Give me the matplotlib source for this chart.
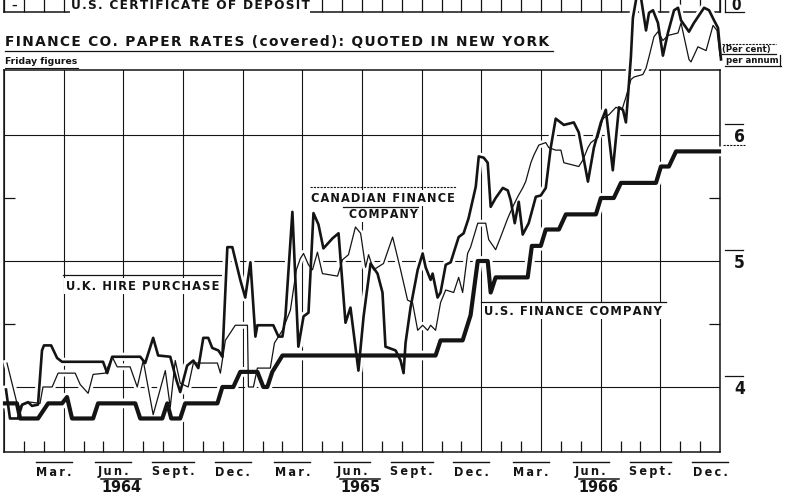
import matplotlib
matplotlib.use("Agg")
import matplotlib.pyplot as plt
import matplotlib.transforms as mtransforms
from matplotlib.lines import Line2D
from matplotlib.ticker import MultipleLocator, FixedLocator

# ─────────────────────────────
# DATA  (x = months since 1 Jan 1964, y = per cent per annum)
# ─────────────────────────────
us_x = [0.05, 0.65, 0.81, 1.71, 2.22, 2.92, 3.17, 3.42, 4.48, 4.73,
        6.60, 6.85, 7.96, 8.21, 8.41, 8.86, 9.11, 10.73, 10.98, 11.53,
        11.88, 12.74, 13.04, 13.24, 13.49, 14.00, 21.70, 21.95, 23.06, 23.46,
        23.82, 24.32, 24.47, 24.72, 26.33, 26.54, 26.99, 27.24, 27.90, 28.25,
        29.76, 30.01, 30.66, 31.02, 32.78, 33.03, 33.43, 33.79, 35.95]
us_y = [3.87, 3.87, 3.75, 3.75, 3.87, 3.87, 3.92, 3.75, 3.75, 3.87,
        3.87, 3.75, 3.75, 3.87, 3.75, 3.75, 3.87, 3.87, 4.00, 4.00,
        4.12, 4.12, 4.00, 4.00, 4.12, 4.25, 4.25, 4.37, 4.37, 4.57,
        5.00, 5.00, 4.75, 4.87, 4.87, 5.12, 5.12, 5.25, 5.25, 5.37,
        5.37, 5.50, 5.50, 5.62, 5.62, 5.75, 5.75, 5.87, 5.87]

can_x = [0.10, 0.30, 0.70, 0.91, 1.21, 1.41, 1.71, 1.91, 2.01, 2.37,
         2.67, 2.92, 4.98, 5.19, 5.44, 6.85, 7.10, 7.50, 7.75, 8.36,
         8.66, 8.86, 9.21, 9.52, 9.77, 10.02, 10.27, 10.47, 10.78, 10.98,
         11.23, 11.48, 11.88, 12.13, 12.39, 12.64, 12.74, 13.54, 13.80, 14.00,
         14.15, 14.50, 14.80, 15.06, 15.31, 15.56, 15.81, 16.06, 16.52, 16.82,
         17.17, 17.42, 17.82, 18.08, 18.43, 18.78, 19.03, 19.18, 19.69, 19.94,
         20.09, 20.19, 20.44, 20.80, 21.05, 21.20, 21.45, 21.55, 21.80, 21.95,
         22.21, 22.46, 22.86, 23.11, 23.36, 23.72, 23.87, 24.12, 24.32, 24.47,
         24.72, 25.08, 25.33, 25.48, 25.68, 25.88, 26.08, 26.38, 26.74, 26.99,
         27.24, 27.49, 27.74, 28.15, 28.65, 28.90, 29.36, 29.66, 30.01, 30.26,
         30.61, 30.92, 31.12, 31.27, 31.37, 31.52, 31.62, 31.92, 32.28, 32.43,
         32.63, 32.88, 33.13, 33.38, 33.69, 33.89, 34.04, 34.44, 34.69, 35.20,
         35.45, 35.70, 35.90, 36.05]
can_y = [3.98, 3.75, 3.75, 3.86, 3.88, 3.85, 3.86, 4.29, 4.33, 4.33,
         4.23, 4.20, 4.20, 4.11, 4.24, 4.24, 4.19, 4.39, 4.25, 4.24,
         4.06, 3.96, 4.17, 4.21, 4.15, 4.39, 4.39, 4.31, 4.29, 4.24,
         5.11, 5.11, 4.85, 4.71, 4.99, 4.40, 4.49, 4.49, 4.40, 4.40,
         4.56, 5.39, 4.32, 4.56, 4.59, 5.38, 5.29, 5.10, 5.18, 5.22,
         4.51, 4.63, 4.13, 4.56, 4.98, 4.90, 4.75, 4.32, 4.29, 4.21,
         4.11, 4.35, 4.63, 4.93, 5.06, 4.95, 4.85, 4.90, 4.71, 4.75,
         4.97, 4.99, 5.19, 5.22, 5.34, 5.59, 5.83, 5.82, 5.78, 5.43,
         5.50, 5.58, 5.56, 5.48, 5.30, 5.47, 5.21, 5.30, 5.51, 5.52,
         5.58, 5.90, 6.13, 6.08, 6.10, 6.02, 5.63, 5.90, 6.10, 6.20,
         5.72, 6.22, 6.20, 6.10, 6.30, 6.62, 6.93, 7.20, 6.83, 6.97,
         6.99, 6.89, 6.63, 6.81, 6.99, 7.01, 6.91, 6.82, 6.89, 7.01,
         6.99, 6.91, 6.85, 6.60]

uk_x = [0.15, 0.70, 1.31, 1.81, 1.96, 2.42, 2.72, 3.58, 3.83, 4.23,
        4.48, 5.09, 5.44, 5.69, 6.34, 6.70, 7.00, 7.50, 7.85, 8.11,
        8.36, 8.61, 8.86, 9.26, 9.52, 10.73, 10.88, 11.13, 11.63, 12.24,
        12.29, 12.54, 12.74, 13.39, 13.60, 14.00, 14.40, 14.70, 14.90, 15.06,
        15.31, 15.51, 15.76, 16.01, 16.77, 17.02, 17.32, 17.67, 17.93, 18.18,
        18.33, 18.58, 19.08, 19.54, 19.94, 20.29, 20.54, 20.80, 21.05, 21.30,
        21.45, 21.70, 21.95, 22.21, 22.61, 22.86, 23.06, 23.31, 23.46, 23.82,
        24.22, 24.37, 24.72, 24.97, 25.33, 25.58, 25.83, 26.08, 26.23, 26.49,
        26.64, 26.89, 27.24, 27.39, 27.74, 28.00, 28.15, 28.90, 29.10, 29.36,
        29.51, 29.86, 30.11, 30.41, 30.77, 31.07, 31.27, 31.52, 31.67, 32.12,
        32.28, 32.43, 32.68, 32.88, 33.13, 33.38, 33.89, 34.04, 34.44, 34.54,
        34.89, 35.30, 35.65, 35.85, 36.00]
uk_y = [4.19, 3.84, 3.88, 3.87, 4.00, 4.00, 4.11, 4.11, 4.02, 3.95,
        4.10, 4.11, 4.24, 4.16, 4.16, 4.00, 4.21, 3.78, 3.98, 4.13,
        3.84, 4.21, 4.03, 4.00, 4.19, 4.19, 4.11, 4.37, 4.49, 4.49,
        4.00, 4.00, 4.15, 4.15, 4.35, 4.45, 4.61, 4.93, 5.02, 5.06,
        4.97, 4.93, 5.07, 4.90, 4.88, 5.01, 5.05, 5.27, 5.22, 4.95,
        5.05, 4.93, 4.98, 5.19, 4.93, 4.69, 4.67, 4.45, 4.49, 4.45,
        4.49, 4.45, 4.67, 4.77, 4.75, 4.87, 4.75, 5.06, 5.11, 5.30,
        5.30, 5.17, 5.09, 5.19, 5.34, 5.43, 5.51, 5.58, 5.63, 5.78,
        5.84, 5.92, 5.94, 5.90, 5.88, 5.88, 5.78, 5.75, 5.80, 5.90,
        5.94, 5.98, 6.13, 6.16, 6.22, 6.20, 6.30, 6.44, 6.46, 6.48,
        6.53, 6.62, 6.78, 6.82, 6.75, 6.79, 6.81, 6.89, 6.60, 6.58,
        6.70, 6.67, 6.87, 6.83, 6.63]

month_names = ["Mar.", "Jun.", "Sept.", "Dec."] * 3
year_names = ["1964", "1965", "1966"]
rate_ticks = [4, 5, 6]

# ─────────────────────────────
# LAYOUT HELPERS
# ─────────────────────────────
INK = "#141414"
W, H = 785, 495
NARROW = ["Liberation Sans Narrow", "DejaVu Sans"]
HAIR = "\u200a"


def fx(px):
    return px / W


def fy(py):
    return 1 - py / H


def spaced(s, sep=HAIR):
    return sep.join(s)


def fig_line(x0, x1, y0, y1, lw=1.0, ls="-"):
    fig.add_artist(Line2D([fx(x0), fx(x1)], [fy(y0), fy(y1)], transform=fig.transFigure,
                          color=INK, lw=lw, ls=ls))


fig = plt.figure(figsize=(W / 100, H / 100), dpi=100)
fig.patch.set_facecolor("white")

# ─────────────────────────────
# REMNANT OF THE PANEL ABOVE
# ─────────────────────────────
ax_top = fig.add_axes([fx(4), fy(12), 716 / W, 40 / H], zorder=0)
ax_top.set_facecolor("none")
ax_top.set_xlim(0, 36)
ax_top.set_ylim(0, 1)
ax_top.spines["top"].set_visible(False)
for s in ax_top.spines.values():
    s.set_color(INK)
    s.set_linewidth(1.1)
ax_top.xaxis.set_major_locator(MultipleLocator(1))
ax_top.tick_params(axis="x", direction="in", length=14, width=0.9, color=INK, labelbottom=False)
ax_top.set_yticks([])

# ─────────────────────────────
# MAIN PANEL
# ─────────────────────────────
ax = fig.add_axes([fx(4), fy(452), 716 / W, 382 / H], zorder=1)
ax.set_facecolor("none")
ax.set_xlim(0, 36)
ax.set_ylim(3.484, 6.516)
for s in ax.spines.values():
    s.set_color(INK)
    s.set_linewidth(1.1)

ax.xaxis.set_major_locator(MultipleLocator(3))
ax.xaxis.set_minor_locator(MultipleLocator(1))
ax.tick_params(axis="x", which="major", length=0, labelbottom=False)
ax.tick_params(axis="x", which="minor", direction="in", length=8, width=0.9, color=INK)

ax.yaxis.set_major_locator(FixedLocator(rate_ticks))
ax.yaxis.set_minor_locator(FixedLocator([4.5, 5.5]))
ax.yaxis.tick_right()
ax.tick_params(axis="y", which="major", length=0, pad=10, labelsize=12.5,
               labelright=True, labelleft=False, labelcolor=INK)
ax.tick_params(axis="y", which="minor", direction="in", length=8, width=0.9,
               left=True, right=True, color=INK)
for lbl in ax.get_yticklabels():
    lbl.set_fontweight("bold")
    lbl.set_family(NARROW)
    lbl.set_fontstretch("condensed")
ax.grid(which="major", color=INK, linewidth=0.8)

# lines: white halo first (breaks the grid like the print), then ink
series = [(uk_x, uk_y, 0.9), (can_x, can_y, 1.9), (us_x, us_y, 3.0)]
for x, y, lw in series:
    ax.plot(x, y, color="white", lw=lw + 4, solid_joinstyle="round", zorder=2.6, clip_on=False)
for x, y, lw in series:
    ax.plot(x, y, color=INK, lw=lw, solid_joinstyle="round", zorder=3, clip_on=False)

# ─────────────────────────────
# SERIES LABELS
# ─────────────────────────────
label_kw = dict(family=NARROW, fontweight="bold", fontstretch="condensed", color=INK,
                ha="center", va="center", zorder=2.55,
                bbox=dict(facecolor="white", edgecolor="none", pad=1.5))
fit = []
fit.append((ax.text(6.95, 4.80, spaced("U.K. HIRE PURCHASE"), fontsize=12, **label_kw), 155))
fit.append((ax.text(19.03, 5.50, spaced("CANADIAN FINANCE"), fontsize=12, **label_kw), 145))
fit.append((ax.text(19.08, 5.37, spaced("COMPANY"), fontsize=12, **label_kw), 69))
fit.append((ax.text(28.6, 4.60, spaced("U.S. FINANCE COMPANY"), fontsize=12, **label_kw), 180))

ax.plot([2.97, 10.98], [4.889, 4.889], color=INK, lw=0.9, zorder=2.56)
ax.plot([15.41, 22.71], [5.587, 5.587], color=INK, lw=0.8, ls=(0, (2, 1)), zorder=2.56)
ax.plot([17.02, 20.80], [5.429, 5.429], color=INK, lw=0.9, zorder=2.56)
ax.plot([23.97, 33.28], [4.675, 4.675], color=INK, lw=0.9, zorder=2.56)

# right-hand scale decorations
trans_r = mtransforms.blended_transform_factory(fig.transFigure, ax.transData)
for v in rate_ticks:
    ax.add_artist(Line2D([fx(725), fx(743)], [v + 0.085, v + 0.085], transform=trans_r,
                         color=INK, lw=0.9, clip_on=False))
ax.add_artist(Line2D([fx(723), fx(745)], [5.92, 5.92], transform=trans_r,
                     color=INK, lw=0.8, ls=(0, (2, 1)), clip_on=False))

# ─────────────────────────────
# BOTTOM DATE LABELS
# ─────────────────────────────
trans_b = mtransforms.blended_transform_factory(ax.transData, fig.transFigure)
for i, name in enumerate(month_names):
    m = 2.5 + 3 * i
    half = 1.05 if name == "Sept." else 0.9
    ax.text(m, fy(472), spaced(name, "\u2009"), transform=trans_b, ha="center", va="center",
            fontsize=9, fontweight="bold", family=NARROW, fontstretch="condensed",
            color=INK, clip_on=False)
    ax.add_artist(Line2D([m - half, m + half], [fy(462), fy(462)], transform=trans_b,
                         color=INK, lw=1.0, clip_on=False))
for i, name in enumerate(year_names):
    m = 5.9 + 12 * i
    ax.text(m, fy(487.5), name, transform=trans_b, ha="center", va="center",
            fontsize=11.5, fontweight="bold", family=NARROW, fontstretch="condensed",
            color=INK, clip_on=False)
    ax.add_artist(Line2D([m - 1.0, m + 1.0], [fy(479), fy(479)], transform=trans_b,
                         color=INK, lw=1.1, clip_on=False))

# ─────────────────────────────
# TITLES AND HEADER TEXT
# ─────────────────────────────
title = fig.text(fx(5), fy(41.5), spaced("FINANCE CO. PAPER RATES (covered): QUOTED IN NEW YORK"),
                 fontsize=11.5, ha="left", va="center", color=INK, fontweight="bold")
fit.append((title, 548))
fig_line(5, 553, 50.5, 50.5, lw=0.9)

friday = fig.text(fx(5), fy(61.5), "Friday figures", fontsize=6.3, ha="left", va="center",
                  color=INK, fontweight="bold", family=NARROW)
fit.append((friday, 73))
fig_line(5, 78, 67.5, 67.5, lw=0.8)

cert = fig.text(fx(190), fy(5.5), spaced("U.S. CERTIFICATE OF DEPOSIT"), fontsize=10,
                ha="center", va="center", fontweight="bold", family=NARROW,
                fontstretch="condensed", color=INK,
                bbox=dict(facecolor="white", edgecolor="none", pad=0.5))
fit.append((cert, 236))
fig_line(72, 308, 11, 11, lw=0.9)
fig.text(fx(14), fy(5.5), "\u2013", fontsize=8, ha="center", va="center", fontweight="bold", color=INK)

fig.text(fx(736), fy(6), "0", fontsize=11, ha="center", va="center", fontweight="bold",
         family=NARROW, fontstretch="condensed", color=INK)
fig_line(725, 725, 0, 12, lw=0.9)
fig_line(725, 744, 12, 12, lw=0.9)

fig.text(fx(746), fy(49.5), "(Per cent)", fontsize=6.2, ha="center", va="center",
         fontweight="bold", family=NARROW, color=INK)
fig.text(fx(752), fy(60.5), "per annum", fontsize=6.2, ha="center", va="center",
         fontweight="bold", family=NARROW, color=INK)
fig_line(722, 776, 43.5, 43.5, lw=0.8, ls=(0, (2, 1)))
fig_line(722, 776, 54, 54, lw=0.9)
fig_line(725, 781, 66, 66, lw=0.9)
fig_line(780, 780, 55, 66, lw=0.9)

# fit text widths to the reference print
fig.canvas.draw()
renderer = fig.canvas.get_renderer()
for t, target in fit:
    w = t.get_window_extent(renderer).width
    t.set_fontsize(t.get_fontsize() * target / w)

fig.savefig("out.png", dpi=100, facecolor="white")
plt.close(fig)
print("Saved: out.png")
